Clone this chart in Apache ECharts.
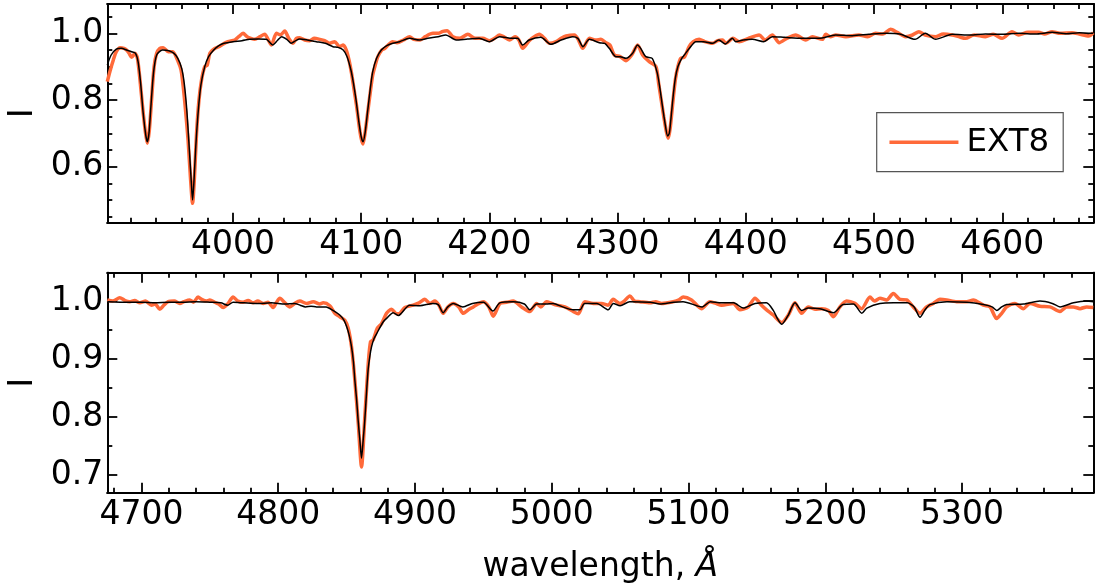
<!DOCTYPE html>
<html>
<head>
<meta charset="utf-8">
<script src="https://cdn.jsdelivr.net/npm/echarts@6/dist/echarts.min.js"></script>
<style>
  html, body { margin: 0; padding: 0; background: #fff; }
  #chart { width: 1100px; height: 587px; }
</style>
</head>
<body>
<div id="chart"></div>
<script>
// axis ranges (Angstrom / normalised intensity)
const topRange = [3902, 4671];
const bottomRange = [4675, 5396];
const topIRange = [0.432, 1.088];
const bottomIRange = [0.6695, 1.049];

// tick labels
const topWaveTicks = [4000, 4100, 4200, 4300, 4400, 4500, 4600];
const bottomWaveTicks = [4700, 4800, 4900, 5000, 5100, 5200, 5300];
const topITicks = [0.6, 0.8, 1.0];
const bottomITicks = [0.7, 0.8, 0.9, 1.0];

// model spectrum (black), upper panel
const topModel = [
  [3902, 0.905], [3905, 0.935], [3909, 0.953], [3913, 0.955], [3917, 0.95], [3921, 0.945],
  [3924, 0.94], [3926, 0.915], [3928, 0.85], [3930, 0.76], [3932, 0.695], [3933.2, 0.675],
  [3934.5, 0.7], [3936, 0.78], [3938, 0.88], [3940.5, 0.935], [3945, 0.95], [3950, 0.948],
  [3954, 0.94], [3957, 0.925], [3960, 0.895], [3962, 0.85], [3964, 0.77], [3966, 0.65],
  [3967.5, 0.555], [3968.5, 0.5], [3969.5, 0.55], [3971, 0.66], [3973, 0.77], [3975, 0.845],
  [3978, 0.9], [3981, 0.93], [3985, 0.95], [3989, 0.963], [3993, 0.97], [4000, 0.975],
  [4007, 0.978], [4013, 0.982], [4020, 0.983], [4026, 0.982], [4031, 0.965], [4035, 0.98],
  [4038, 0.99], [4042, 0.982], [4045.5, 0.97], [4049, 0.978], [4052, 0.983], [4058, 0.98],
  [4065, 0.975], [4072, 0.97], [4078, 0.96], [4082, 0.958], [4086, 0.95], [4089, 0.93],
  [4092, 0.89], [4094, 0.85], [4096, 0.8], [4098, 0.74], [4100, 0.69], [4101.4, 0.675],
  [4103, 0.7], [4105, 0.765], [4107, 0.83], [4109, 0.885], [4112, 0.925], [4115.7, 0.95],
  [4120, 0.963], [4124.7, 0.97], [4130, 0.975], [4137.7, 0.985], [4145.5, 0.98], [4152, 0.985],
  [4160, 0.99], [4166, 0.995], [4174, 0.98], [4183, 0.983], [4192, 0.985], [4200, 0.975],
  [4208, 0.99], [4218, 0.985], [4222, 0.985], [4226, 0.965], [4231, 0.98], [4240, 0.988],
  [4248, 0.967], [4256, 0.98], [4265, 0.99], [4269, 0.985], [4273, 0.96], [4278, 0.982],
  [4285.7, 0.972], [4290, 0.97], [4293.5, 0.955], [4298.7, 0.93], [4302, 0.93], [4306.5, 0.925],
  [4311.7, 0.94], [4315.5, 0.965], [4318, 0.955], [4322, 0.93], [4327, 0.925], [4331, 0.88],
  [4333, 0.835], [4335, 0.78], [4337, 0.73], [4339, 0.692], [4340.3, 0.7], [4341.5, 0.74],
  [4343, 0.8], [4345, 0.865], [4347, 0.9], [4350, 0.925], [4352, 0.935], [4356, 0.955],
  [4361, 0.975], [4367, 0.975], [4374, 0.97], [4379, 0.98], [4384, 0.968], [4389.5, 0.985],
  [4392, 0.975], [4398, 0.98], [4405, 0.982], [4414, 0.975], [4420.7, 0.99], [4430, 0.988],
  [4444, 0.985], [4457, 0.985], [4470, 0.995], [4483, 0.993], [4496, 0.997], [4509, 1.0],
  [4520, 0.998], [4532, 0.982], [4540, 1.0], [4548, 0.982], [4561, 0.997], [4575, 0.995],
  [4587, 0.998], [4600, 0.997], [4613, 1.0], [4626, 0.998], [4639, 1.003], [4650, 0.999],
  [4660, 1.002], [4671, 1.0]
];

// observed spectrum EXT8 (orange), upper panel
const topObs = [
  [3902, 0.855], [3904, 0.885], [3906.7, 0.92], [3909, 0.945], [3912, 0.957], [3915, 0.955],
  [3917, 0.95], [3919, 0.94], [3921, 0.928], [3923.6, 0.94], [3925.5, 0.925], [3927.5, 0.86],
  [3929.5, 0.78], [3931.5, 0.71], [3933.2, 0.67], [3934.8, 0.71], [3936.5, 0.8], [3938.5, 0.9],
  [3940.5, 0.94], [3943, 0.955], [3945.6, 0.957], [3949.5, 0.945], [3953, 0.945], [3957.3, 0.915],
  [3959.5, 0.89], [3961.2, 0.84], [3963, 0.77], [3965, 0.68], [3966.8, 0.57], [3968.5, 0.49],
  [3970, 0.57], [3971.6, 0.7], [3973.5, 0.8], [3975.5, 0.86], [3978, 0.9], [3980, 0.905],
  [3982, 0.94], [3985.9, 0.955], [3989, 0.96], [3992.4, 0.968], [3996, 0.975], [4001.4, 0.98],
  [4004.5, 0.99], [4007.9, 1.0], [4011, 0.99], [4014, 0.985], [4017, 0.982], [4021, 0.99],
  [4024.8, 0.997], [4027, 0.985], [4030, 0.965], [4033.9, 1.0], [4037, 0.995], [4040.4, 1.007],
  [4043.5, 0.985], [4046.9, 0.97], [4049.5, 0.985], [4052, 0.987], [4056, 0.98], [4059.8, 0.978],
  [4063.5, 0.985], [4067.6, 0.982], [4071.5, 0.978], [4075.4, 0.97], [4079.3, 0.975], [4083.2, 0.96],
  [4086, 0.965], [4088.4, 0.95], [4090.5, 0.92], [4092.5, 0.88], [4094.5, 0.83], [4096.5, 0.78],
  [4098.5, 0.72], [4100, 0.685], [4101.4, 0.668], [4103, 0.7], [4105, 0.76], [4107, 0.82],
  [4109, 0.875], [4111, 0.905], [4113, 0.93], [4116, 0.95], [4118.5, 0.955], [4121, 0.965],
  [4124.5, 0.975], [4128, 0.972], [4133, 0.98], [4137.8, 0.99], [4141, 0.982], [4146, 0.98],
  [4150, 0.99], [4155.9, 1.0], [4160, 1.0], [4163.7, 1.006], [4167, 1.008], [4171.5, 0.99],
  [4177, 0.985], [4183.2, 0.997], [4189, 0.985], [4194.9, 0.985], [4200, 0.978], [4204, 0.985],
  [4207.9, 0.995], [4211, 0.99], [4215.6, 0.98], [4220, 0.99], [4223, 0.98], [4226, 0.955],
  [4231, 0.978], [4235, 0.99], [4239, 0.997], [4243, 0.985], [4246.8, 0.97], [4252, 0.975],
  [4256, 0.985], [4259.8, 0.992], [4266.3, 0.995], [4269.5, 0.98], [4272.8, 0.955], [4278, 0.985],
  [4283.1, 0.98], [4287, 0.982], [4290.9, 0.972], [4294, 0.965], [4297.4, 0.935], [4302, 0.93],
  [4306.5, 0.918], [4311, 0.935], [4315.6, 0.965], [4319.5, 0.935], [4324.7, 0.915], [4329.9, 0.9],
  [4332, 0.85], [4334, 0.8], [4336, 0.75], [4338, 0.705], [4339.5, 0.685], [4341, 0.715],
  [4343, 0.79], [4345, 0.86], [4347, 0.9], [4349.3, 0.925], [4352, 0.928], [4355.8, 0.96],
  [4359, 0.975], [4363.6, 0.982], [4368, 0.975], [4374, 0.97], [4378, 0.978], [4381.8, 0.98],
  [4384.4, 0.97], [4390, 0.985], [4394.8, 0.975], [4402, 0.985], [4410.4, 0.995], [4415, 0.98],
  [4420.7, 0.995], [4426, 0.972], [4432, 0.985], [4438.9, 0.995], [4446.7, 0.98], [4452, 0.99],
  [4459.7, 0.982], [4462.3, 0.997], [4466, 0.99], [4470.1, 0.995], [4478, 0.99], [4488.2, 0.995],
  [4495, 0.99], [4501.2, 1.0], [4507, 0.998], [4512.9, 1.012], [4518, 1.003], [4524.6, 0.99],
  [4530, 0.995], [4535, 1.005], [4540, 0.995], [4547.9, 0.99], [4554, 0.998], [4560.9, 0.995],
  [4566, 0.99], [4571.3, 0.985], [4578, 0.995], [4586.9, 0.99], [4593, 0.997], [4599.9, 0.985],
  [4607.6, 1.005], [4612.8, 0.995], [4620, 1.003], [4628.4, 1.003], [4633, 0.998], [4638.8, 1.005],
  [4645, 1.0], [4654.4, 1.002], [4660, 0.998], [4667.4, 0.992], [4671, 1.002]
];

// model spectrum (black), lower panel
const bottomModel = [
  [4675, 0.999], [4690, 0.998], [4700, 0.998], [4710, 0.997], [4720, 0.998], [4730, 0.998],
  [4740, 0.999], [4750, 0.998], [4758, 0.997], [4763, 0.993], [4767, 0.998], [4775, 0.997],
  [4785, 0.996], [4795, 0.997], [4805, 0.995], [4812, 0.996], [4816, 0.993], [4820, 0.99],
  [4824, 0.991], [4828, 0.99], [4835, 0.99], [4840, 0.984], [4845, 0.976], [4848, 0.967],
  [4850, 0.956], [4852, 0.94], [4853.6, 0.921], [4855, 0.895], [4856, 0.864], [4857.3, 0.83],
  [4858.4, 0.795], [4859.7, 0.76], [4860.9, 0.729], [4862.1, 0.76], [4863.3, 0.795], [4864.5, 0.84],
  [4865.7, 0.881], [4867, 0.905], [4868.2, 0.921], [4870, 0.935], [4872, 0.944], [4876.7, 0.964],
  [4880, 0.972], [4884, 0.98], [4888, 0.975], [4890, 0.979], [4896, 0.993], [4903.6, 0.992],
  [4913, 0.996], [4917, 0.994], [4920.6, 0.98], [4924, 0.99], [4928, 0.996], [4935, 0.99],
  [4942, 0.996], [4950, 0.998], [4957, 0.983], [4962, 0.997], [4972, 0.999], [4980, 0.995],
  [4984, 0.985], [4989, 0.995], [4996, 0.995], [5001, 0.996], [5008, 0.99], [5015.7, 0.985],
  [5020.6, 0.985], [5024, 0.996], [5033, 0.996], [5041.3, 0.985], [5045, 0.996], [5050, 0.992],
  [5057, 0.999], [5072, 0.998], [5079, 0.995], [5089, 0.998], [5096, 0.999], [5110, 0.99],
  [5116, 0.999], [5124, 0.997], [5133, 0.997], [5140, 0.988], [5148.6, 0.996], [5157, 0.997],
  [5162, 0.984], [5165, 0.97], [5168.2, 0.96], [5171, 0.968], [5173, 0.976], [5177.9, 0.997],
  [5182.8, 0.984], [5187.6, 0.988], [5196, 0.987], [5206, 0.98], [5213, 0.994], [5220.6, 0.995],
  [5226.7, 0.979], [5230.4, 0.988], [5240, 0.996], [5250, 0.997], [5260, 0.997], [5265, 0.99],
  [5269.3, 0.972], [5273, 0.985], [5276.6, 0.994], [5289, 0.999], [5303.5, 0.998], [5315.6, 0.994],
  [5322, 0.99], [5325.4, 0.984], [5329, 0.99], [5332.7, 0.994], [5345, 0.995], [5357, 1.0],
  [5366, 0.996], [5371.7, 0.99], [5381.5, 0.997], [5391, 1.0], [5396, 0.999]
];

// observed spectrum EXT8 (orange), lower panel
const bottomObs = [
  [4675, 1.002], [4679, 1.0], [4684.1, 1.006], [4688, 1.001], [4691.4, 0.999], [4695, 1.001],
  [4698.8, 0.997], [4703, 1.0], [4707.3, 0.993], [4710, 0.995], [4713.4, 0.986], [4716, 0.992],
  [4719.5, 0.999], [4724, 1.0], [4728, 0.996], [4731, 0.999], [4735.3, 1.002], [4738, 0.998],
  [4741.4, 1.007], [4744, 1.003], [4747.5, 1.0], [4750, 1.002], [4753.6, 0.998], [4756.5, 0.995],
  [4759.7, 0.989], [4763, 0.995], [4767, 1.007], [4770.5, 1.0], [4774.3, 0.998], [4778, 1.001],
  [4781.6, 0.997], [4785, 1.0], [4789, 0.996], [4792.5, 0.998], [4796.3, 0.989], [4798.5, 0.997],
  [4801.2, 1.005], [4804.5, 0.998], [4808.5, 0.99], [4812, 0.996], [4815.8, 1.0], [4820.7, 0.996],
  [4825.6, 0.999], [4830.4, 0.995], [4832.9, 0.997], [4837.7, 0.992], [4841.4, 0.979], [4845, 0.973],
  [4848.7, 0.967], [4851.2, 0.953], [4853.6, 0.921], [4856, 0.864], [4858.5, 0.789], [4860.9, 0.714],
  [4863.3, 0.8], [4865.8, 0.892], [4867.5, 0.93], [4869.4, 0.933], [4872.4, 0.953], [4875.5, 0.961],
  [4879.2, 0.979], [4882.8, 0.986], [4886.5, 0.978], [4889, 0.979], [4892.6, 0.989], [4898.7, 0.993],
  [4903, 0.997], [4907.2, 1.003], [4910.9, 0.996], [4914.5, 1.0], [4917.5, 0.993], [4920.6, 0.979],
  [4924, 0.99], [4928, 0.996], [4932, 0.99], [4935.3, 0.979], [4939, 0.985], [4942.6, 0.99],
  [4946, 0.995], [4949.9, 0.999], [4954, 0.99], [4957.2, 0.974], [4962.1, 0.996], [4967, 0.998],
  [4971.8, 1.0], [4977.9, 0.99], [4984, 0.982], [4988.9, 0.996], [4992, 0.99], [4996.2, 0.999],
  [5000, 0.996], [5003.5, 0.993], [5009.6, 0.99], [5015.7, 0.982], [5019.3, 0.978], [5024.2, 0.999],
  [5030.3, 0.996], [5036.4, 0.996], [5041.3, 0.993], [5044.9, 1.003], [5049.8, 0.996], [5053, 1.0],
  [5057.1, 1.009], [5060.5, 1.0], [5064.4, 0.999], [5071.8, 0.997], [5076, 0.999], [5080.3, 0.996],
  [5088.8, 0.999], [5093, 1.002], [5096.1, 1.007], [5102.2, 1.002], [5109.5, 0.987], [5115.6, 0.999],
  [5120, 0.996], [5124.2, 0.993], [5132.7, 0.996], [5137.6, 0.985], [5140, 0.986], [5143.7, 0.99],
  [5148.6, 1.005], [5153.4, 0.993], [5157.1, 0.985], [5162, 0.976], [5168.1, 0.963], [5173, 0.976],
  [5177.8, 0.997], [5182.7, 0.979], [5187.6, 0.99], [5192.5, 0.986], [5197.3, 0.987], [5202.2, 0.984],
  [5205.9, 0.973], [5210.7, 0.99], [5215.6, 1.0], [5221.7, 0.996], [5226.6, 0.987], [5232.7, 1.007],
  [5236, 1.0], [5240, 1.005], [5244.9, 1.002], [5249.7, 1.013], [5254.6, 1.003], [5259.5, 1.002],
  [5264.4, 0.99], [5269.3, 0.979], [5274.1, 0.99], [5279, 0.996], [5283.9, 1.003], [5288.8, 1.002],
  [5296.1, 0.999], [5303.4, 0.999], [5308.3, 1.002], [5315.6, 0.993], [5320.5, 0.99], [5325.3, 0.97],
  [5329, 0.979], [5332.6, 0.99], [5338.7, 0.996], [5344.8, 0.987], [5349.7, 0.996], [5357, 0.991],
  [5364.3, 0.99], [5371.6, 0.982], [5376.5, 0.99], [5381.4, 0.99], [5386.3, 0.987], [5391.2, 0.99],
  [5396, 0.989]
];

const FONT = "DejaVu Sans";
const ORANGE = "#ff6a3a";

// minor ticks between the majors, every `step`
const minorTicks = (range, step, majors) => {
  const out = [];
  let v = Math.ceil(range[0] / step - 1e-9) * step;
  for (; v <= range[1] + 1e-9; v += step) {
    const r = Math.round(v * 1000) / 1000;
    if (!majors.some((m) => Math.abs(m - r) < 1e-6)) out.push(r);
  }
  return out;
};

// one frame side = a major-tick axis plus a minor-tick axis on the same edge
const frameAxis = (grid, range, position, ticks, len, labels, extra) => {
  return Object.assign({
    type: "value",
    gridIndex: grid,
    position: position,
    min: range[0],
    max: range[1],
    axisLine: { show: true, lineStyle: { color: "#000", width: 1.8 } },
    axisTick: { show: true, inside: true, length: len, customValues: ticks,
      lineStyle: { color: "#000", width: 1.8 } },
    axisLabel: labels
      ? Object.assign({ show: true, customValues: ticks, color: "#000",
          fontFamily: FONT, fontSize: 33 }, labels)
      : { show: false },
    splitLine: { show: false },
    minorTick: { show: false },
  }, extra || {});
};

const panelAxes = (grid, xr, yr, xMaj, yMaj, xStep, yStep, xName) => {
  const xMin = minorTicks(xr, xStep, xMaj);
  const yMin = minorTicks(yr, yStep, yMaj);
  const xs = [
    frameAxis(grid, xr, "bottom", xMaj, 10, { margin: 6, formatter: (v) => String(v) }, xName),
    frameAxis(grid, xr, "bottom", xMin, 5, null),
    frameAxis(grid, xr, "top", xMaj, 10, null),
    frameAxis(grid, xr, "top", xMin, 5, null),
  ];
  const ys = [
    frameAxis(grid, yr, "left", yMaj, 10,
      { margin: 4, formatter: (v) => v.toFixed(1) },
      { name: "I", nameLocation: "middle", nameGap: 67,
        nameTextStyle: { fontFamily: FONT, fontSize: 34, color: "#000" } }),
    frameAxis(grid, yr, "left", yMin, 5, null),
    frameAxis(grid, yr, "right", yMaj, 10, null),
    frameAxis(grid, yr, "right", yMin, 5, null),
  ];
  return { xs, ys };
};

const upperAxes = panelAxes(0, topRange, topIRange, topWaveTicks, topITicks, 20, 0.05);
const lowerAxes = panelAxes(1, bottomRange, bottomIRange, bottomWaveTicks, bottomITicks, 20, 0.05, {
  name: "{n|wavelength, }{a|Å}",
  nameLocation: "middle",
  nameGap: 58,
  nameTextStyle: {
    rich: {
      n: { fontFamily: FONT, fontSize: 33, color: "#000" },
      a: { fontFamily: FONT, fontSize: 33, color: "#000", fontStyle: "italic" },
    },
  },
});

const spectrum = (name, data, axis, color, width, z) => ({
  name: name,
  type: "line",
  xAxisIndex: axis,
  yAxisIndex: axis,
  data: data,
  symbol: "none",
  smooth: 0.25,
  z: z,
  lineStyle: { color: color, width: width },
  itemStyle: { color: color },
  silent: true,
  animation: false,
});

const option = {
  backgroundColor: "#fff",
  animation: false,
  grid: [
    { left: 107.3, top: 4, width: 986, height: 218.7, containLabel: false, outerBoundsMode: "none" },
    { left: 107.3, top: 272.7, width: 986, height: 220, containLabel: false, outerBoundsMode: "none" },
  ],
  xAxis: upperAxes.xs.concat(lowerAxes.xs),
  yAxis: upperAxes.ys.concat(lowerAxes.ys),
  legend: {
    data: ["EXT8"],
    left: 876.7,
    top: 112.7,
    orient: "vertical",
    backgroundColor: "#fff",
    borderColor: "#555",
    borderWidth: 1.2,
    borderRadius: 0,
    padding: [13, 14, 13, 11],
    itemWidth: 69,
    itemHeight: 32,
    itemStyle: { opacity: 0 },
    lineStyle: { width: 3.5, color: ORANGE },
    textStyle: { fontFamily: FONT, fontSize: 32.5, color: "#000", padding: [0, 0, 0, 3] },
  },
  series: [
    spectrum("EXT8", topObs, 0, ORANGE, 3.5, 2),
    spectrum("model", topModel, 0, "#000", 1.5, 3),
    spectrum("EXT8", bottomObs, 4, ORANGE, 3.5, 2),
    spectrum("model", bottomModel, 4, "#000", 1.5, 3),
  ],
};

const chart = echarts.init(document.getElementById("chart"), null, { renderer: "canvas" });
chart.setOption(option);
</script>
</body>
</html>
